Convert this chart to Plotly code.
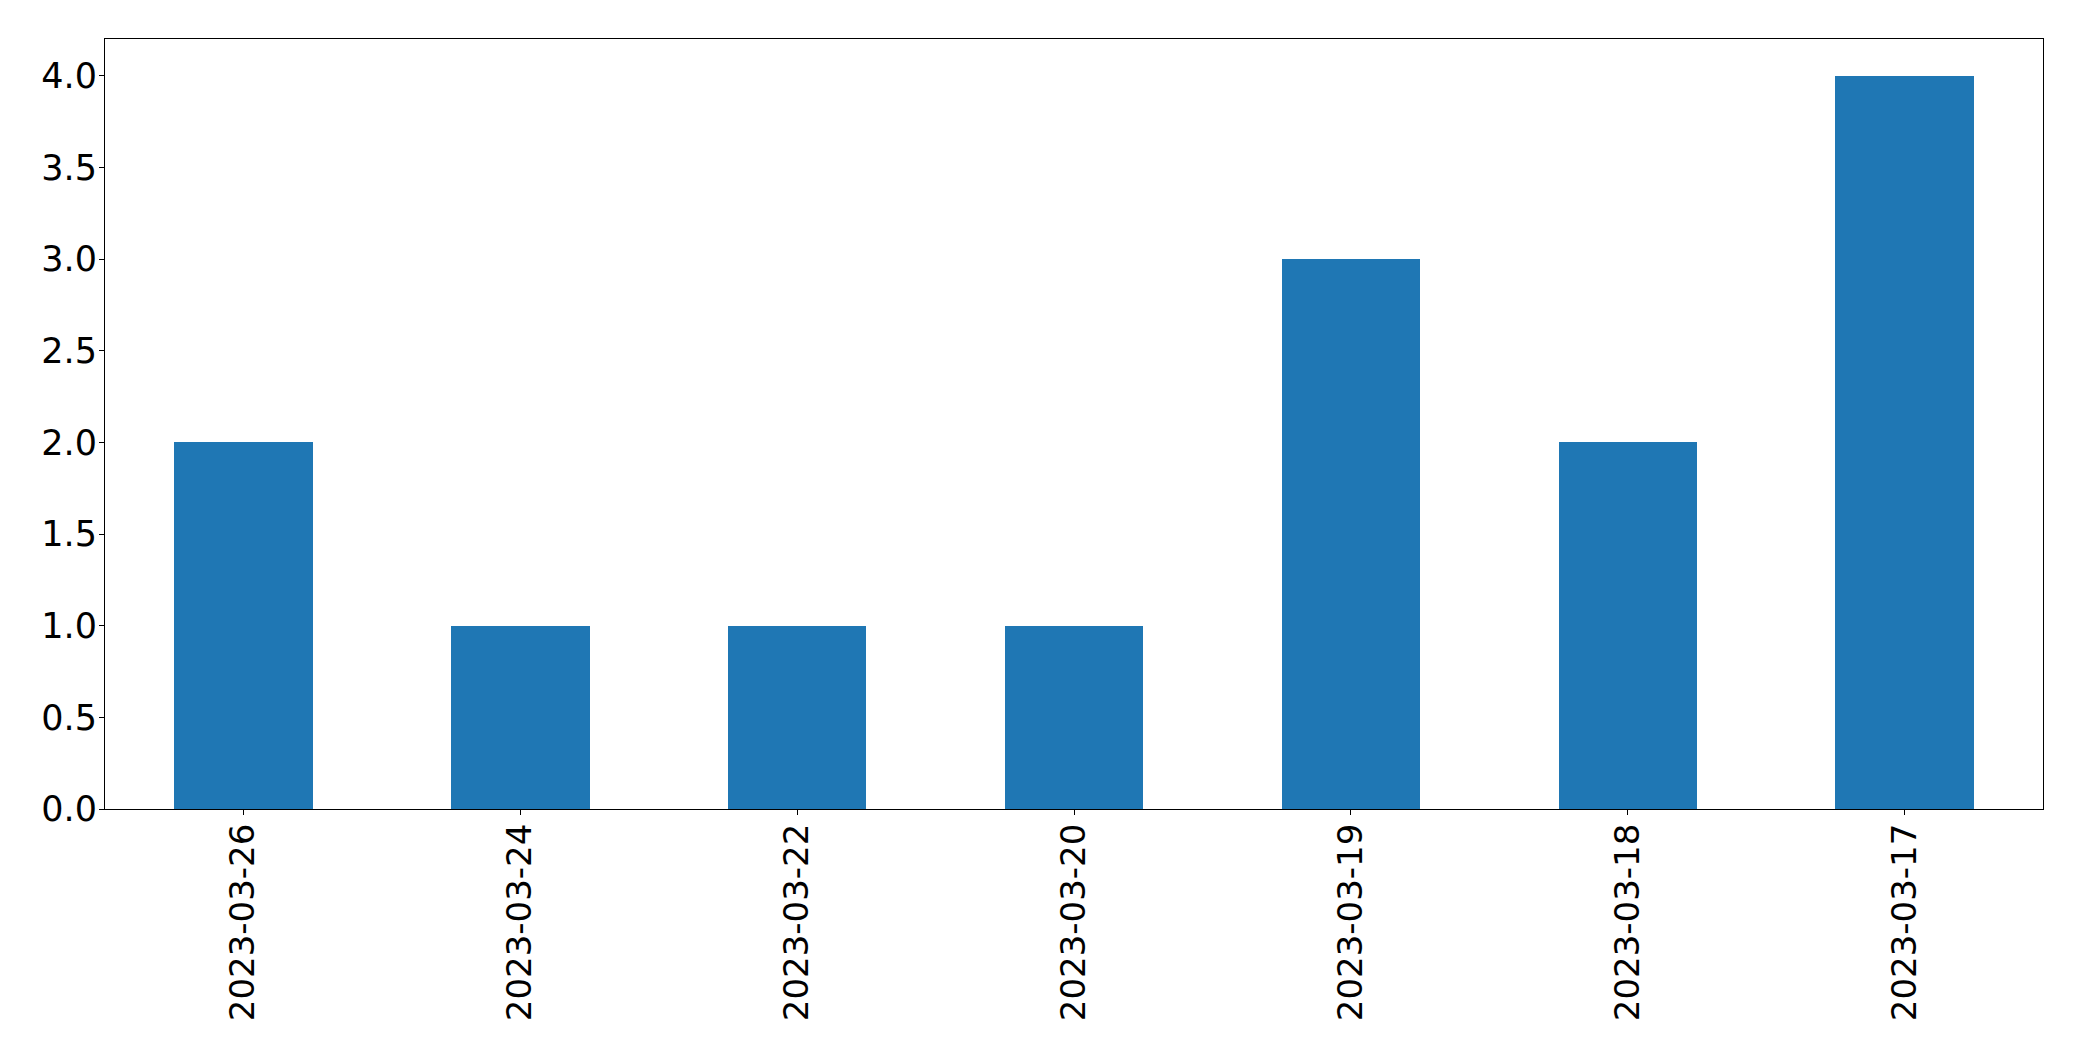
import plotly.graph_objects as go

dates = ["2023-03-26", "2023-03-24", "2023-03-22", "2023-03-20", "2023-03-19", "2023-03-18", "2023-03-17"]
counts = [2, 1, 1, 1, 3, 2, 4]
y_ticks = [0.0, 0.5, 1.0, 1.5, 2.0, 2.5, 3.0, 3.5, 4.0]

fig = go.Figure(go.Bar(x=dates, y=counts, width=0.5, marker=dict(color="#1f77b4", line=dict(width=0))))

xfont = dict(family="DejaVu Sans", size=34, color="black")
yfont = dict(family="DejaVu Sans", size=35, color="black")
fig.update_layout(
    width=2082, height=1061,
    margin=dict(l=97, r=47, t=31, b=260, pad=0),
    plot_bgcolor="white", paper_bgcolor="white",
    showlegend=False, bargap=0,
    font=yfont,
)
fig.update_xaxes(
    type="category", range=[-0.5, 6.5], tickangle=-90,
    showline=True, linecolor="black", linewidth=1.1, mirror=True,
    ticks="outside", ticklen=5, tickwidth=1.1, tickcolor="black",
    showgrid=False, zeroline=False, tickfont=xfont, ticklabelstandoff=-5,
)
fig.update_yaxes(
    range=[0, 4.2], tickvals=y_ticks, ticktext=[f"{v:.1f}" for v in y_ticks],
    showline=True, linecolor="black", linewidth=1.1, mirror=True,
    ticks="outside", ticklen=5, tickwidth=1.1, tickcolor="black",
    showgrid=False, zeroline=False, tickfont=yfont, ticklabelstandoff=-5,
)
fig.write_html("out.html")
